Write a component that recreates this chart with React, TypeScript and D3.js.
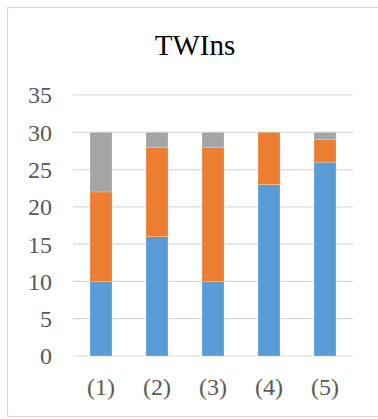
import React from "react";
import * as d3 from "d3";

const categories = ["(1)", "(2)", "(3)", "(4)", "(5)"];
const seriesA = [10, 16, 10, 23, 26];
const seriesB = [12, 12, 18, 7, 3];
const seriesC = [8, 2, 2, 0, 1];
const yTicks = [0, 5, 10, 15, 20, 25, 30, 35];
const title = "TWIns";

const colors = ["#5B9BD5", "#ED7D31", "#A5A5A5"];
const W = 378;
const H = 419;
const font = "'Liberation Serif', 'Times New Roman', serif";

export default function App() {
  const x = d3.scaleBand<string>().domain(categories).range([73, 353]).paddingInner(0.607).paddingOuter(0.3035);
  const y = d3.scaleLinear().domain([0, 35]).range([356, 95]);

  const rows = categories.map((c, i) => ({ cat: c, a: seriesA[i], b: seriesB[i], c: seriesC[i] }));
  const stacked = d3.stack<any>().keys(["a", "b", "c"])(rows);

  return (
    <svg width={W} height={H} style={{ position: "absolute", left: 0, top: 0, background: "#fff" }}>
      <rect x={7.5} y={7.5} width={W + 5} height={409} fill="#fff" stroke="#d9d9d9" strokeWidth={1.2} />
      <text x={195} y={55} textAnchor="middle" fontFamily={font} fontSize={29} fill="#000">
        {title}
      </text>
      {yTicks.map((t) => (
        <g key={t}>
          <line x1={73} x2={353} y1={y(t)} y2={y(t)} stroke="#d9d9d9" strokeWidth={1.2} />
          <text x={52} y={y(t)} dy="0.35em" textAnchor="end" fontFamily={font} fontSize={24} fill="#595959">
            {t}
          </text>
        </g>
      ))}
      {stacked.map((layer, li) => (
        <g key={li} fill={colors[li]}>
          {layer.map((d, i) =>
            d[1] - d[0] > 0 ? (
              <rect
                key={i}
                x={x(categories[i])}
                width={x.bandwidth()}
                y={y(d[1])}
                height={y(d[0]) - y(d[1])}
                stroke="#fff"
                strokeOpacity={0.35}
                strokeWidth={0.6}
              />
            ) : null
          )}
        </g>
      ))}
      {categories.map((c) => (
        <text key={c} x={(x(c) as number) + x.bandwidth() / 2} y={395} textAnchor="middle" fontFamily={font} fontSize={24} fill="#595959">
          {c}
        </text>
      ))}
    </svg>
  );
}
